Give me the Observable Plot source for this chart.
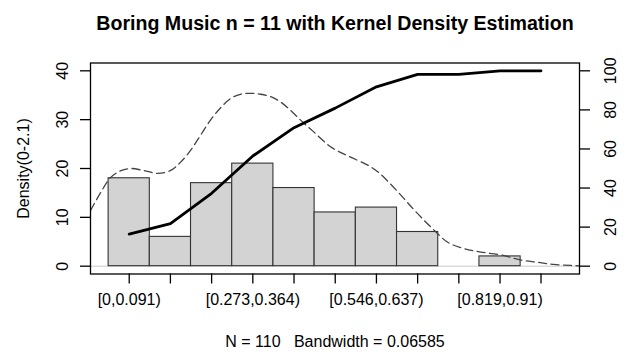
<!DOCTYPE html>
<html><head><meta charset="utf-8">
<script src="https://cdn.jsdelivr.net/npm/d3@7"></script>
<script src="https://cdn.jsdelivr.net/npm/@observablehq/plot@0.6"></script>
<style>
html,body{margin:0;padding:0;background:#fff;}
#chart svg{display:block;}
</style></head><body><div id="chart"></div>
<script>
const title = "Boring Music n = 11 with Kernel Density Estimation";
const caption = "N = 110   Bandwidth = 0.06585";
const yLabel = "Density(0-2.1)";
const binLabels = ["[0,0.091)","[0.091,0.182)","[0.182,0.273)","[0.273,0.364)","[0.364,0.455)","[0.455,0.546)","[0.546,0.637)","[0.637,0.728)","[0.728,0.819)","[0.819,0.91)","[0.91,1]"];
const binEdges = [0, 0.091, 0.182, 0.273, 0.364, 0.455, 0.546, 0.637, 0.728, 0.819, 0.91, 1];
const shownLabels = [0, 3, 6, 9];
const counts = [18, 6, 17, 21, 16, 11, 12, 7, 0, 2, 0];
const cumPct = [16.4, 21.8, 37.3, 56.4, 70.9, 80.9, 91.8, 98.2, 98.2, 100, 100];
const leftTicks = [0, 10, 20, 30, 40];
const rightTicks = [0, 20, 40, 60, 80, 100];
const densX = [-0.04,-0.018,0.004,0.026,0.048,0.077,0.108,0.137,0.159,0.181,0.203,0.225,0.247,0.269,0.291,0.314,0.336,0.358,0.380,0.402,0.424,0.453,0.491,0.528,0.572,0.595,0.639,0.676,0.712,0.749,0.785,0.822,0.866,0.909,0.948,0.983,1.021,1.04];
const densY = [11.4,15.0,18.1,19.5,20.0,19.6,19.0,19.6,21.3,23.7,26.8,29.9,32.4,34.3,35.2,35.4,35.2,34.7,33.6,31.9,29.9,27.5,24.4,22.6,20.7,19.3,15.2,11.4,8.0,4.9,3.6,2.9,2.3,1.3,0.8,0.35,0.15,0.05];

const RATIO = 40 / 100; // right axis 100 <-> left axis 40
const bins = counts.map((c, i) => ({
  x1: binEdges[i], x2: binEdges[i + 1], c,
  mid: (binEdges[i] + binEdges[i + 1]) / 2,
  label: binLabels[i], cum: cumPct[i], i
}));
const dens = densX.map((x, i) => ({x, y: densY[i]}));
const font = "'Liberation Sans', Arial, Helvetica, sans-serif";

const chart = Plot.plot({
  width: 630, height: 352,
  marginLeft: 90, marginRight: 51, marginTop: 62.5, marginBottom: 78.5,
  x: {domain: [-0.04, 1.04], axis: null},
  y: {domain: [-1.6, 41.6], axis: null},
  style: {fontFamily: font, fontSize: "16px", color: "#000", background: "#fff"},
  marks: [
    Plot.ruleY([0], {stroke: "#bdbdbd", strokeWidth: 0.8}),
    Plot.rectY(bins, {x1: "x1", x2: "x2", y: "c", fill: "#d3d3d3", stroke: "#333", strokeWidth: 1.1}),
    Plot.line(dens, {x: "x", y: "y", stroke: "#444", strokeWidth: 1.3, strokeDasharray: "8,4.5", curve: "catmull-rom", clip: true}),
    Plot.line(bins, {x: "mid", y: d => d.cum * RATIO, stroke: "#000", strokeWidth: 2.8}),
    Plot.frame({stroke: "#000", strokeWidth: 1.3}),
    Plot.axisX(bins.map(d => d.mid), {anchor: "bottom", tickSize: 10, tickFormat: () => "", label: null, strokeWidth: 1.3}),
    Plot.axisY(leftTicks, {anchor: "left", tickSize: 10, tickFormat: () => "", label: null, strokeWidth: 1.3}),
    Plot.axisY(rightTicks.map(v => v * RATIO), {anchor: "right", tickSize: 10, tickFormat: () => "", label: null, strokeWidth: 1.3}),
    Plot.text(bins.filter(d => shownLabels.includes(d.i)), {x: "mid", text: "label", frameAnchor: "bottom", dy: 25.5, lineAnchor: "middle", fontSize: 16}),
    Plot.text(leftTicks, {y: d => d, text: d => String(d), frameAnchor: "left", dx: -28, rotate: -90, textAnchor: "middle", lineAnchor: "middle", fontSize: 16}),
    Plot.text(rightTicks, {y: d => d * RATIO, text: d => String(d), frameAnchor: "right", dx: 31, rotate: -90, textAnchor: "middle", lineAnchor: "middle", fontSize: 16}),
    Plot.text([yLabel], {text: d => d, frameAnchor: "left", dx: -67, rotate: -90, textAnchor: "middle", lineAnchor: "middle", fontSize: 16}),
    Plot.text([title], {text: d => d, frameAnchor: "top", dy: -39.5, lineAnchor: "middle", fontWeight: "bold", fontSize: 19.6}),
    Plot.text([caption], {text: d => d, frameAnchor: "bottom", dy: 67.5, lineAnchor: "middle", fontSize: 16})
  ]
});
document.getElementById("chart").appendChild(chart);
</script></body></html>
